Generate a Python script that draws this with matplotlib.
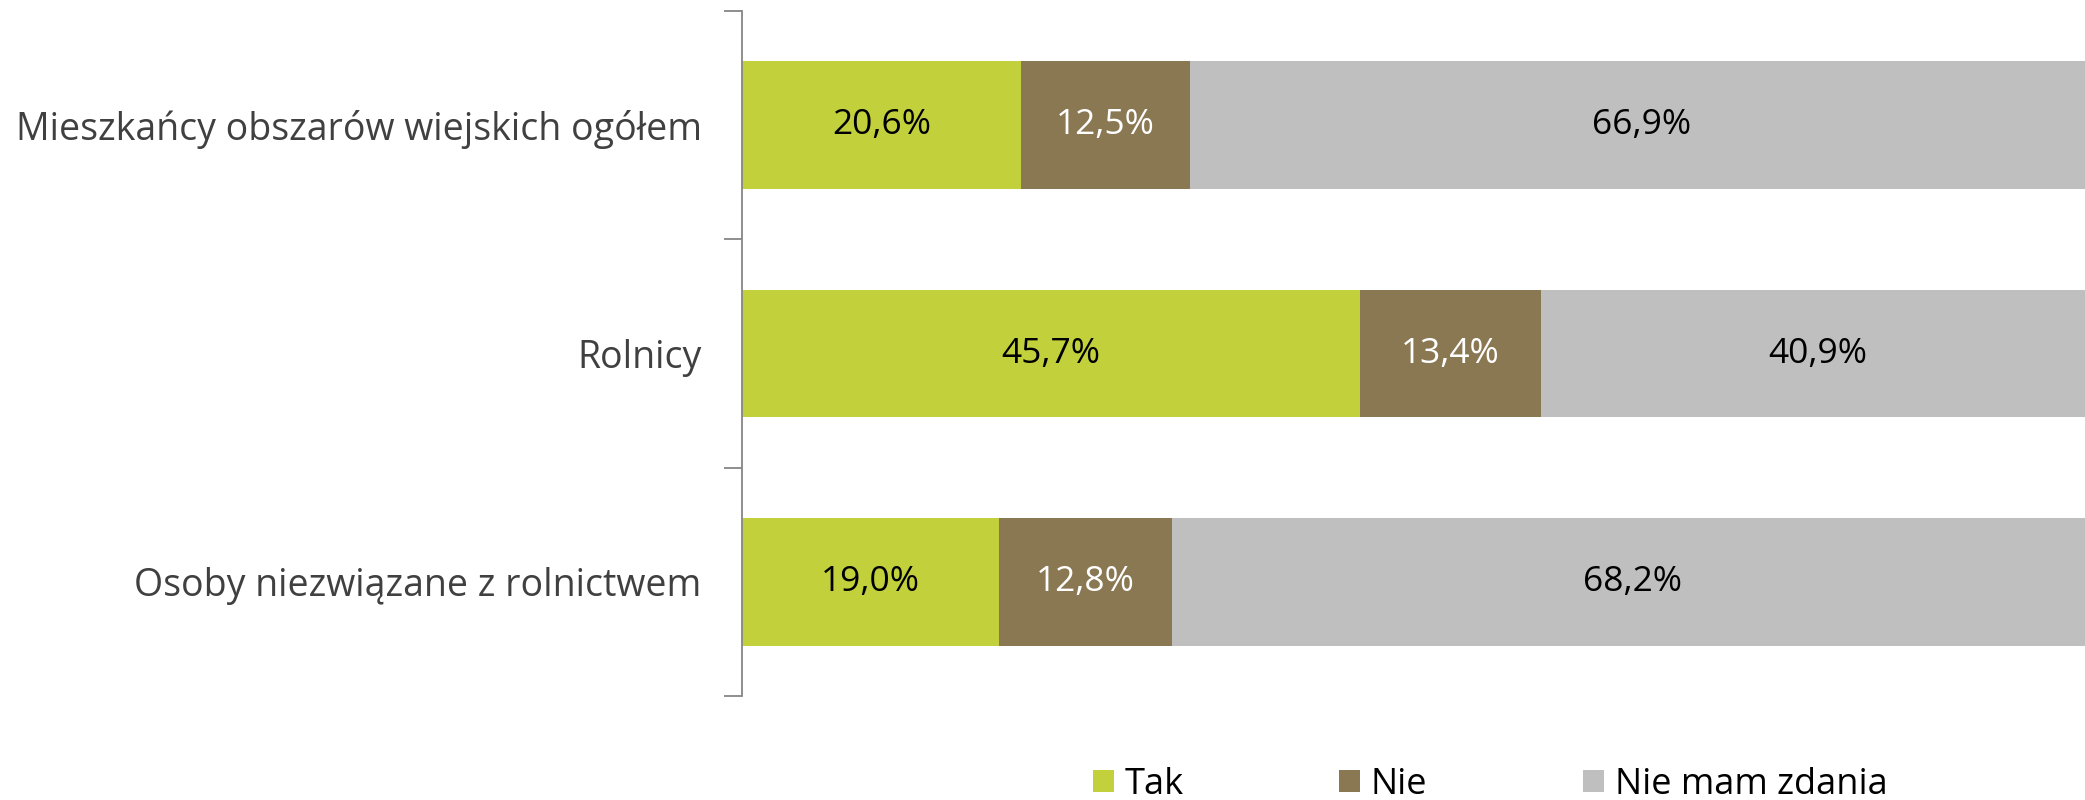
import matplotlib.pyplot as plt
import numpy as np

plt.rcParams['font.family'] = ['Open Sans', 'DejaVu Sans']

categories = ['Mieszkańcy obszarów wiejskich ogółem', 'Rolnicy', 'Osoby niezwiązane z rolnictwem']
tak = [20.6, 45.7, 19.0]
nie = [12.5, 13.4, 12.8]
brak = [66.9, 40.9, 68.2]
series_names = ['Tak', 'Nie', 'Nie mam zdania']
colors = ['#C1D03B', '#8A7853', '#BFBFBF']
label_colors = ['black', 'white', 'black']

fig = plt.figure(figsize=(20.85, 8), dpi=100)
# the bars run slightly past the right edge of the figure, as in the original
ax = fig.add_axes([742 / 2085, 104 / 800, (2094 - 742) / 2085, 685 / 800])

y = np.arange(len(categories))
left = np.zeros(len(categories))
for vals, name, col, tcol in zip([tak, nie, brak], series_names, colors, label_colors):
    bars = ax.barh(y, vals, left=left, height=0.56, color=col, label=name)
    for b, v in zip(bars, vals):
        ax.text(b.get_x() + b.get_width() / 2, b.get_y() + b.get_height() / 2,
                f'{v:.1f}%'.replace('.', ','), ha='center', va='center',
                color=tcol, fontsize=25.5)
    left += np.array(vals)

ax.set_xlim(0, 100)
ax.set_ylim(len(categories) - 0.5, -0.5)
ax.set_yticks(y)
ax.set_yticklabels(categories, fontsize=27, color='#404040')
ax.tick_params(axis='y', which='major', length=0, pad=29)
ax.set_yticks(np.arange(-0.5, len(categories)), minor=True)
ax.tick_params(axis='y', which='minor', length=13, color='#868686', width=1.3)
ax.set_xticks([])
for s in ['top', 'right', 'bottom']:
    ax.spines[s].set_visible(False)
ax.spines['left'].set_color('#868686')
ax.spines['left'].set_linewidth(1.3)

fig.legend(loc='center left', bbox_to_anchor=(1093 / 2085, 15 / 800), ncol=3,
           frameon=False, fontsize=26, handlelength=0.58, handleheight=0.58,
           handletextpad=0.3, columnspacing=4.3, borderpad=0, borderaxespad=0)

fig.savefig('out.png', dpi=100)
